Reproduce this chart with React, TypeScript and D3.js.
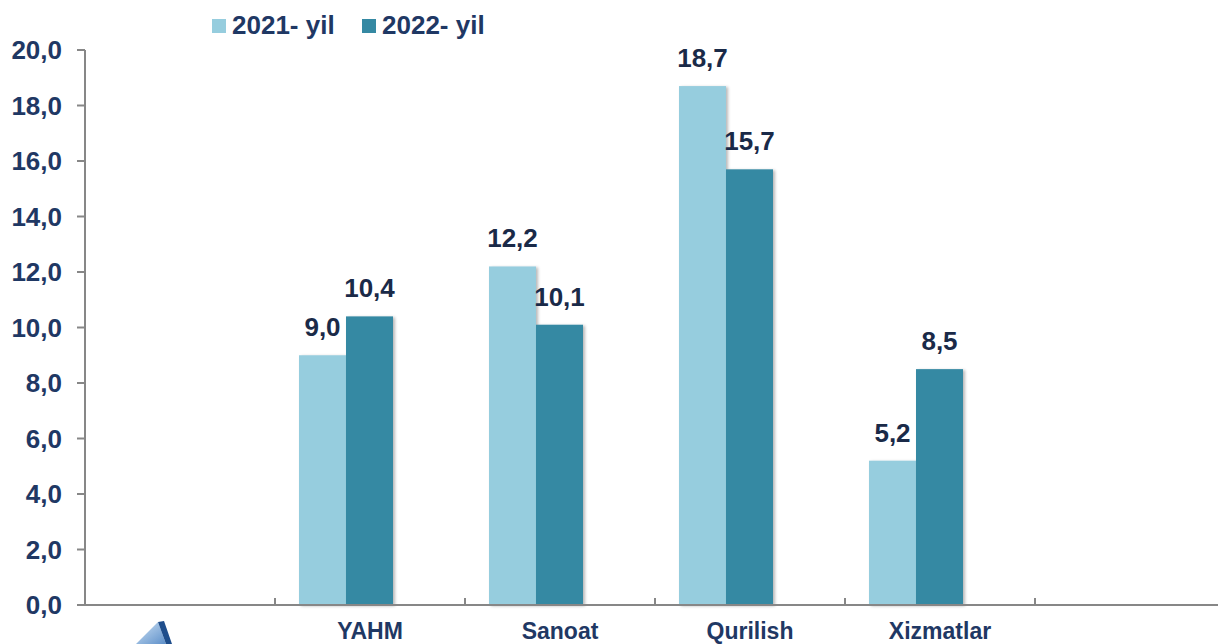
import React from "react";
import * as d3 from "d3";

const categories = ["", "YAHM", "Sanoat", "Qurilish", "Xizmatlar", " "];
const seriesNames = ["2021- yil", "2022- yil"];
const values2021: (number | null)[] = [null, 9.0, 12.2, 18.7, 5.2, null];
const values2022: (number | null)[] = [null, 10.4, 10.1, 15.7, 8.5, null];
const yTicks = [0, 2, 4, 6, 8, 10, 12, 14, 16, 18, 20];
const colors = ["#96CDDE", "#3589A3"];

const W = 1218;
const H = 644;
const FONT = "'Liberation Sans', Arial, sans-serif";

export default function App() {
  const left = 85;
  const bottom = 605;
  const top = 50;
  const x = d3.scaleBand<string>().domain(categories).range([left, left + 190 * 6]).padding(0);
  const inner = d3.scaleBand<string>().domain(seriesNames).range([24, 118]).padding(0);
  const y = d3.scaleLinear().domain([0, 20]).range([bottom, top]);
  const fmt = (v: number) => v.toFixed(1).replace(".", ",");
  const series = [values2021, values2022];

  return (
    <svg
      width={W}
      height={H}
      style={{ position: "absolute", left: 0, top: 0, display: "block", background: "#fff" }}
      fontFamily={FONT}
    >
      <defs>
        <filter id="sh" x="-20%" y="-20%" width="140%" height="140%">
          <feDropShadow dx="2" dy="1" stdDeviation="1.5" floodColor="#000" floodOpacity="0.28" />
        </filter>
        <linearGradient id="logoG" x1="0" y1="0" x2="1" y2="1">
          <stop offset="0" stopColor="#cfe3f5" />
          <stop offset="1" stopColor="#5d8fc9" />
        </linearGradient>
      </defs>

      {/* legend */}
      {seriesNames.map((s, i) => {
        const lx = [212, 362][i];
        return (
          <g key={s}>
            <rect x={lx} y={19} width={14} height={14} fill={colors[i]} />
            <text x={lx + 20} y={34} fontSize={26} fontWeight="bold" fill="#1F3864">
              {s}
            </text>
          </g>
        );
      })}

      {/* bars */}
      {series.map((vals, si) =>
        vals.map((v, ci) =>
          v == null ? null : (
            <rect
              key={`b${si}-${ci}`}
              x={(x(categories[ci]) as number) + (inner(seriesNames[si]) as number)}
              y={y(v)}
              width={inner.bandwidth()}
              height={bottom - y(v)}
              fill={colors[si]}
              filter="url(#sh)"
            />
          )
        )
      )}

      {/* value labels */}
      {series.map((vals, si) =>
        vals.map((v, ci) =>
          v == null ? null : (
            <text
              key={`l${si}-${ci}`}
              x={(x(categories[ci]) as number) + (inner(seriesNames[si]) as number) + inner.bandwidth() / 2}
              y={y(v) - 19}
              textAnchor="middle"
              fontSize={26}
              fontWeight="bold"
              fill="#1A2A48"
            >
              {fmt(v)}
            </text>
          )
        )
      )}

      {/* y axis */}
      <line x1={left} x2={left} y1={top} y2={bottom} stroke="#878787" strokeWidth={2} />
      {yTicks.map((t) => (
        <g key={t}>
          <line x1={left - 8} x2={left} y1={y(t)} y2={y(t)} stroke="#878787" strokeWidth={2} />
          <text
            x={62}
            y={y(t)}
            dy="0.36em"
            textAnchor="end"
            fontSize={26}
            fontWeight="bold"
            fill="#1F3864"
          >
            {fmt(t)}
          </text>
        </g>
      ))}

      {/* x axis */}
      <line x1={left - 8} x2={W} y1={bottom} y2={bottom} stroke="#878787" strokeWidth={2} />
      {categories.slice(1).map((c) => (
        <line
          key={`t${c}`}
          x1={x(c) as number}
          x2={x(c) as number}
          y1={bottom}
          y2={bottom - 7}
          stroke="#878787"
          strokeWidth={2}
        />
      ))}
      {categories.map((c) =>
        c.trim() === "" ? null : (
          <text
            key={`c${c}`}
            x={(x(c) as number) + x.bandwidth() / 2}
            y={639}
            textAnchor="middle"
            fontSize={23}
            fontWeight="bold"
            fill="#1F3864"
          >
            {c}
          </text>
        )
      )}

      {/* partial logo */}
      <polygon points="136,644 158,622 166,644" fill="url(#logoG)" />
      <polygon points="158,622 164,621 172,644 166,644" fill="#1F4E8C" />
    </svg>
  );
}
